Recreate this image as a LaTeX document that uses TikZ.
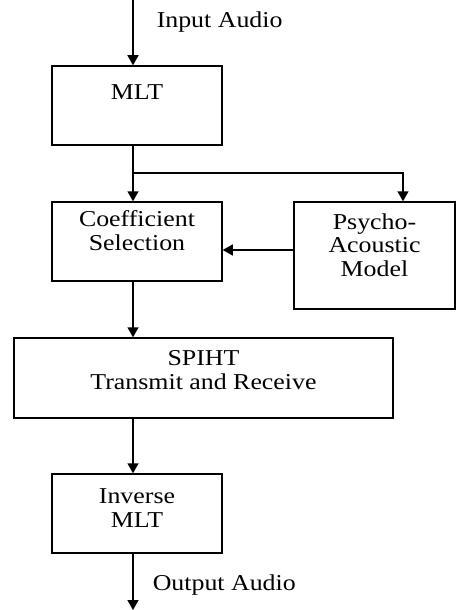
\documentclass[tikz,border=0pt]{standalone}
\usepackage{fontspec}
\setmainfont{Liberation Serif}[FakeStretch=1.14]
\usetikzlibrary{arrows.meta}

\begin{document}
\begin{tikzpicture}[x=1pt,y=1pt,line width=1.5pt,
    >={Triangle[length=10pt,width=11pt]},
    block/.style={draw,inner sep=0pt},
    txt/.style={align=center,inner sep=0pt,font=\fontsize{22.7}{23.5}\selectfont}]
    \useasboundingbox (0,0) rectangle (457,-610);
    % blocks
    \node[block,minimum width=170,minimum height=79,label={[txt,yshift=13.5]center:MLT}] (mlt) at (137,-105.5) {};
    \node[block,minimum width=170,minimum height=79,label={[txt,yshift=11]center:Coefficient\\Selection}] (coef) at (137,-241.5) {};
    \node[block,minimum width=161,minimum height=107,label={[txt,yshift=10.5]center:Psycho-\\Acoustic\\Model}] (psy) at (374.5,-255.5) {};
    \node[block,minimum width=379,minimum height=80,label={[txt,yshift=8]center:SPIHT\\Transmit and Receive}] (spiht) at (203.5,-378) {};
    \node[block,minimum width=170,minimum height=79,label={[txt,yshift=5.5]center:Inverse\\MLT}] (inv) at (137,-513.5) {};
    % points on the signal path
    \coordinate (in) at (133,0);
    \coordinate (out) at (133,-610);
    \coordinate (split) at (133,-173);
    \coordinate (psyin) at (403,-173);
    \coordinate (fb) at (0,-250);
    % connectors
    \draw[->] (in) -- (in |- mlt.north);
    \draw (mlt.south -| in) -- (split);
    \draw[->] (split) -- (coef.north -| split);
    \draw[->] (split) -- (psyin) -- (psy.north -| psyin);
    \draw[->] (psy.west |- fb) -- (coef.east |- fb);
    \draw[->] (coef.south -| in) -- (spiht.north -| in);
    \draw[->] (spiht.south -| in) -- (inv.north -| in);
    \draw[->] (inv.south -| in) -- (out);
    % signal labels
    \node[txt,anchor=base west] (inlbl) at (156,-28) {Input Audio};
    \node[txt,anchor=base west] (outlbl) at (152,-590) {Output Audio};
\end{tikzpicture}
\end{document}
